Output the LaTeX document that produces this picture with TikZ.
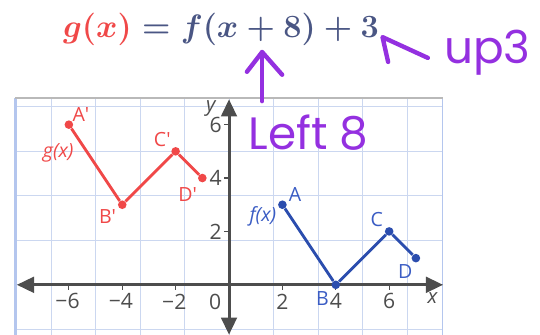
\documentclass[tikz,border=0pt]{standalone}
\usepackage[no-math]{fontspec}
\setmainfont{Open Sans}
\newfontfamily\handfont{Poppins}
\usetikzlibrary{arrows.meta}
\definecolor{gred}{HTML}{F04848}
\definecolor{fblue}{HTML}{2B4DAE}
\definecolor{flabel}{HTML}{3A5CC4}
\definecolor{slate}{HTML}{4A5684}
\definecolor{gridblue}{HTML}{CBD7F0}
\definecolor{frameblue}{HTML}{B4C6EE}
\definecolor{axisgray}{HTML}{4D4D4D}
\definecolor{ink}{HTML}{9430E0}

\begin{document}
\begin{tikzpicture}[x=0.6cm, y=0.6cm,
    dot/.style={circle, fill, inner sep=0pt, minimum size=5.5pt},
    gline/.style={gred, line width=1.8pt},
    fline/.style={fblue, line width=1.8pt},
    lbl/.style={font=\fontsize{12.5}{13}\selectfont, inner sep=1pt},
    ticklbl/.style={font=\fontsize{13.5}{14}\selectfont, text=axisgray, inner sep=1pt},
    axisline/.style={axisgray, line width=1.9pt,
                     {Triangle[length=11pt,width=10pt]}-{Triangle[length=11pt,width=10pt]}},
    pen/.style={ink, line width=2.8pt, line cap=round, line join=round},
    hand/.style={ink, inner sep=0pt, font=\handfont\fontsize{29}{30}\selectfont},
    rulefont/.style={font=\fontsize{19.3}{22}\selectfont\boldmath},
  ]
    \useasboundingbox[fill=white] (-8.58,-1.87) rectangle (11.65,10.67);

    % Grid -------------------------------------------------------------------
    \draw[gridblue, line width=0.5pt] (-8,-1.87) grid (8,7);
    \draw[frameblue, line width=1.6pt] (-8,-1.87) -- (-8,7);
    \draw[frameblue, line width=1pt]   (8,-1.87) -- (8,7);
    \draw[gray!55, line width=1.4pt]   (-8,7) -- (8,7);

    % Axes -------------------------------------------------------------------
    \coordinate (xl) at (-7.95,0);
    \coordinate (xr) at (8.02,0);
    \coordinate (yb) at (0,-1.87);
    \coordinate (yt) at (0,6.95);
    \draw[axisline] (xl) -- (xr);
    \draw[axisline] (yb) -- (yt);
    \foreach \v in {-6,-4,-2,2,4,6}
      \draw[axisgray, line width=0.8pt] (\v,0) -- (\v,-0.18);
    \foreach \v in {2,4,6}
      \draw[axisgray, line width=0.8pt] (0,\v) -- (-0.18,\v);
    \foreach \v in {6,4,2}
      \node[ticklbl] at (-\v-0.05,-0.62) {−\v};
    \foreach \v in {2,4,6}
      \node[ticklbl] at (\v,-0.62) {\v};
    \foreach \v in {2,4,6}
      \node[ticklbl] at (-0.5,\v) {\v};
    \node[ticklbl] (zero) at (-0.52,-0.65) {0};
    \node[ticklbl, font=\itshape\fontsize{13}{14}\selectfont] (ylbl) at (-0.68,6.62) {y};
    \node[ticklbl, font=\itshape\fontsize{13}{14}\selectfont] (xlbl) at (7.62,-0.5) {x};

    % g(x) -------------------------------------------------------------------
    \node[dot, gred] (Ap) at (-6,6) {};
    \node[dot, gred] (Bp) at (-4,3) {};
    \node[dot, gred] (Cp) at (-2,5) {};
    \node[dot, gred] (Dp) at (-1,4) {};
    \draw[gline] (Ap) -- (Bp) -- (Cp) -- (Dp);
    \node[lbl, text=gred] at (-5.55,6.38) {A′};
    \node[lbl, text=gred] at (-4.55,2.55) {B′};
    \node[lbl, text=gred] at (-2.5,5.43)  {C′};
    \node[lbl, text=gred] at (-1.55,3.4)  {D′};
    \node[lbl, text=gred, font=\itshape\fontsize{12.5}{13}\selectfont] at (-6.4,4.94) {g(x)};

    % f(x) -------------------------------------------------------------------
    \node[dot, fblue] (A) at (2,3) {};
    \node[dot, fblue] (B) at (4,0) {};
    \node[dot, fblue] (C) at (6,2) {};
    \node[dot, fblue] (D) at (7,1) {};
    \draw[fline] (A) -- (B) -- (C) -- (D);
    \node[lbl, text=flabel] at (2.47,3.4)  {A};
    \node[lbl, text=flabel] at (3.5,-0.5)  {B};
    \node[lbl, text=flabel] at (5.54,2.43) {C};
    \node[lbl, text=flabel] at (6.6,0.5)   {D};
    \node[lbl, text=flabel, font=\itshape\fontsize{12.5}{13}\selectfont] at (1.27,2.55) {f(x)};

    % Rule -------------------------------------------------------------------
    \node[rulefont, text=slate] (rulenode) at (-0.3,9.55) {$\textcolor{gred}{g(x)}=f(x+8)+3$};

    % Notes in ink -----------------------------------------------------------
    \coordinate (upfoot) at (1.24,6.88);
    \coordinate (uptip)  at (1.24,8.72);
    \draw[pen] (upfoot) -- (uptip);
    \draw[pen] (0.67,7.98) -- (uptip) -- (1.99,7.87);
    \node[hand, anchor=base west] (leftnote) at (0.72,5.06) {Left 8};
    \coordinate (uparrow) at (5.75,9.28);
    \draw[pen] (7.45,8.5) -- (uparrow) -- (5.96,8.35);
    \node[hand, anchor=base west] (upnote) at (8.05,8.3) {up3};
  \end{tikzpicture}
\end{document}
